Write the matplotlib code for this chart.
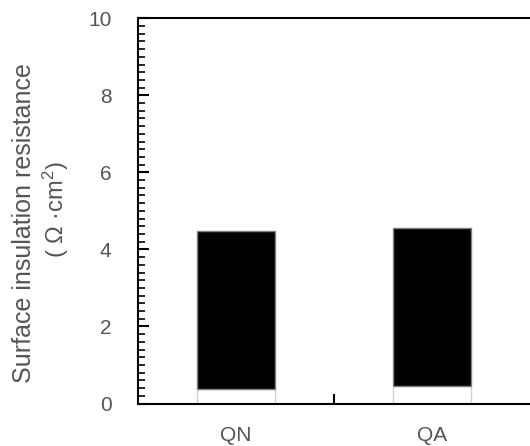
import matplotlib.pyplot as plt
import numpy as np

plt.rcParams['font.family'] = ['Liberation Sans', 'DejaVu Sans']
plt.rcParams['mathtext.fontset'] = 'custom'
plt.rcParams['mathtext.rm'] = 'Liberation Sans'
plt.rcParams['mathtext.it'] = 'Liberation Sans'

# data
categories = ["QN", "QA"]
base = [0.38, 0.45]      # white lower segment
top = [4.47, 4.55]       # upper end of the black segment

grey = "#555555"

fig = plt.figure(figsize=(5.30, 4.46), dpi=100)
ax = fig.add_axes([138 / 530, 1 - 403.5 / 446, 1 - 138 / 530, (403.5 - 18.3) / 446])

x = np.arange(len(categories))
black_part = [t - b for t, b in zip(top, base)]
ax.bar(x, base, width=0.4, color="white", edgecolor="#d0d0d0", linewidth=1)
ax.bar(x, black_part, bottom=base, width=0.4, color="black", edgecolor="#808080", linewidth=1)

ax.set_xlim(-0.5, 1.5)
ax.set_ylim(0, 10)

ax.set_yticks(np.arange(0, 11, 2))
ax.set_yticks(np.arange(0, 10.01, 0.2), minor=True)
ax.tick_params(axis="y", which="major", direction="in", length=8, width=1.5,
               labelsize=15, labelcolor=grey, pad=19)
ax.tick_params(axis="y", which="minor", direction="in", length=5, width=1.2)

ax.set_xticks(x)
ax.set_xticklabels(categories)
ax.set_xticks([0.5], minor=True)
ax.tick_params(axis="x", which="major", length=0, labelsize=15, labelcolor=grey, pad=16)
ax.tick_params(axis="x", which="minor", direction="in", length=7, width=1.5)

for s in ["left", "bottom", "top"]:
    ax.spines[s].set_linewidth(1.5)
ax.spines["right"].set_visible(False)

fig.text(24 / 530, 1 - 223 / 446, "Surface insulation resistance", rotation=90,
         ha="center", va="center", fontsize=18, color=grey)
fig.text(56 / 530, 1 - 210 / 446, "( Ω ·cm$^2$)", rotation=90,
         ha="center", va="center", fontsize=17, color=grey)

fig.savefig("out.png", dpi=100)
